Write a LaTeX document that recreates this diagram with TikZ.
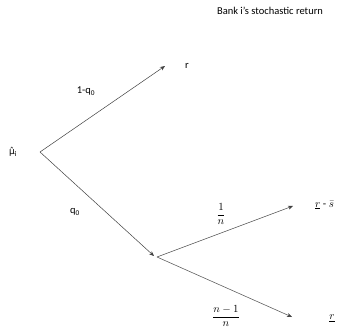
\documentclass[tikz,border=0pt]{standalone}
\usepackage{fontspec}
\setmainfont{Carlito}
\newfontfamily\symfont{DejaVu Sans}
\usetikzlibrary{arrows.meta}
\begin{document}
\begin{tikzpicture}[x=1pt,y=-1pt,font=\fontsize{10.5}{12}\selectfont,
  branch/.style={-{Stealth[length=5pt,width=4pt]},line width=0.5pt,black!75},
  mathlbl/.style={font=\fontsize{11}{13}\selectfont}]
  \useasboundingbox (0,0) rectangle (337,334);
  % tree points
  \coordinate (root) at (40,152);
  \coordinate (mid) at (157,257);
  \coordinate (tipr) at (165,66);
  \coordinate (tipmid) at (154,256);
  \coordinate (tipup) at (293,206);
  \coordinate (tiplow) at (292,317);

  % Title
  \node (title) at (270,11) {Bank i’s stochastic return};

  % Outcomes
  \node (mu) at (13,152) {{\symfont\fontsize{9}{11}\selectfont μ̂}\textsubscript{i}};
  \node (ret) at (187,66) {r};
  \node[mathlbl,anchor=west,inner sep=1pt] (upout) at (314,205) {$\underline{r}\mbox{ - }\bar{s}$};
  \node[mathlbl] (lowout) at (332,318) {$\underline{r}$};

  % Probabilities
  \node (pup) at (86,91) {1-q\textsubscript{0}};
  \node (pdown) at (75,212) {q\textsubscript{0}};
  \node[mathlbl] (pone) at (221,214) {$\displaystyle\frac{1}{n}$};
  \node[mathlbl] (prest) at (226,316) {$\displaystyle\frac{n-1}{n}$};

  % Branches
  \draw[branch] (root) -- (tipr);
  \draw[branch] (root) -- (tipmid);
  \draw[branch] (mid) -- (tipup);
  \draw[branch] (mid) -- (tiplow);
\end{tikzpicture}
\end{document}
